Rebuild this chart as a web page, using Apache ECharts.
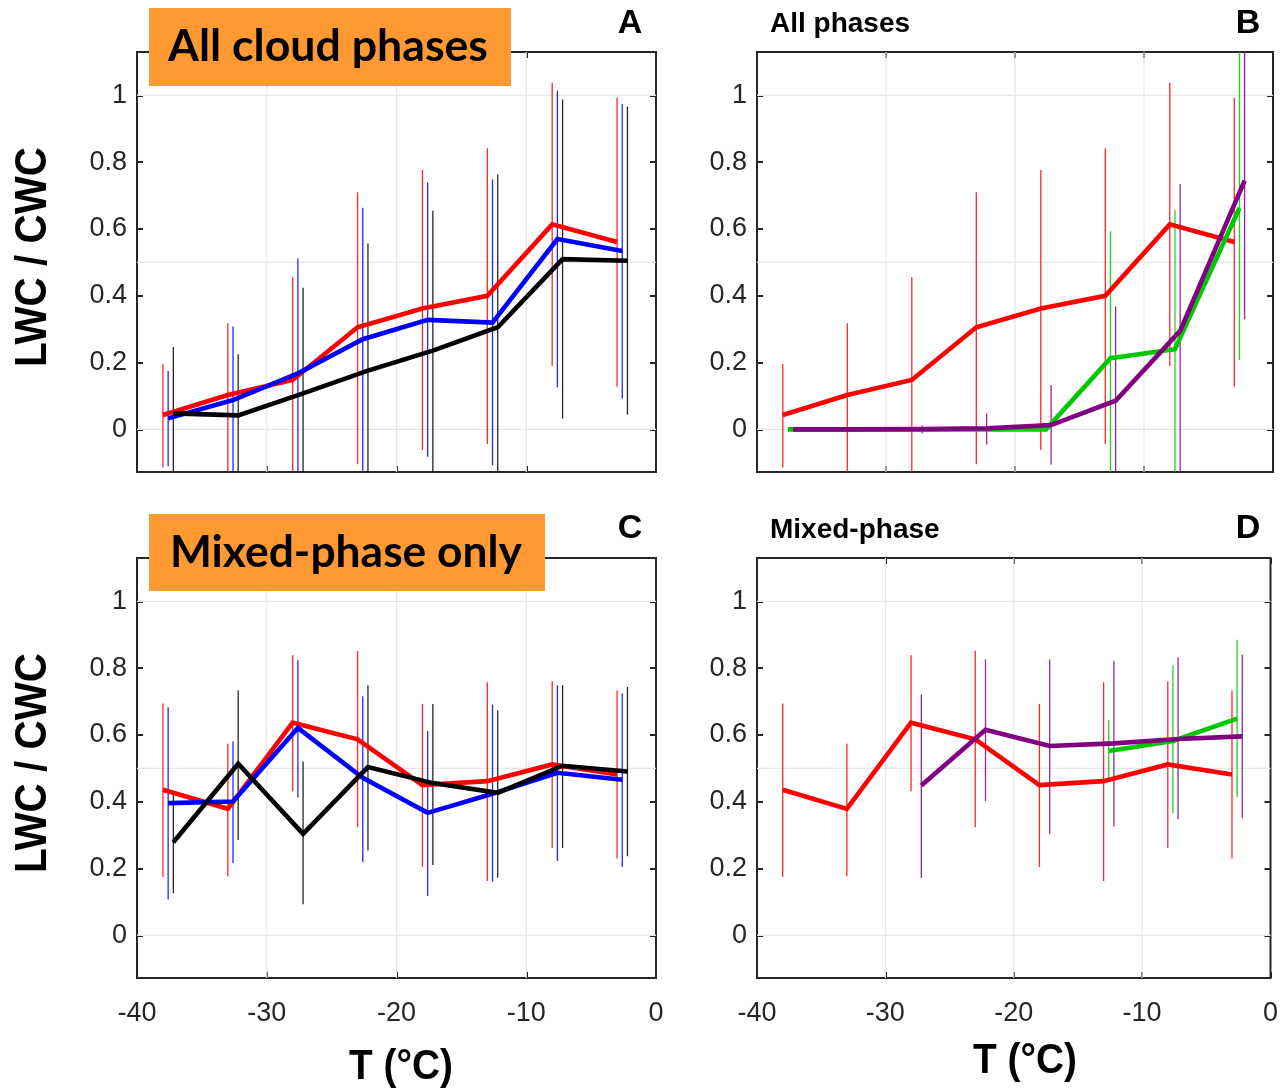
<!DOCTYPE html>
<html>
<head>
<meta charset="utf-8">
<script src="https://cdn.jsdelivr.net/npm/echarts@6/dist/echarts.min.js"></script>
<style>
  html, body { margin: 0; padding: 0; background: #ffffff; }
  #chart { width: 1281px; height: 1090px; }
</style>
</head>
<body>
<div id="chart"></div>
<script>
// Temperature bins (°C); each group of curves is offset slightly so the error bars don't overlap
const xRed   = [-38, -33, -28, -23, -18, -13, -8, -3];
const xMid   = [-37.6, -32.6, -27.6, -22.6, -17.6, -12.6, -7.6, -2.6];
const xRight = [-37.2, -32.2, -27.2, -22.2, -17.2, -12.2, -7.2, -2.2];

// Axis ticks and grid
const xTicks = [-40, -30, -20, -10, 0];
const yTicks = [0, 0.2, 0.4, 0.6, 0.8, 1];
const gridX  = [-30, -20, -10];
const gridY  = [0, 0.5, 1];

// All cloud phases: LWC/CWC mean and spread
const allRed     = [0.043, 0.103, 0.148, 0.306, 0.362, 0.400, 0.614, 0.561];
const allRedHi   = [0.196, 0.318, 0.456, 0.710, 0.777, 0.842, 1.038, 0.993];
const allRedLo   = [-0.114, -0.15, -0.16, -0.104, -0.062, -0.044, 0.190, 0.128];

const allBlue    = [0.033, 0.088, 0.168, 0.270, 0.328, 0.320, 0.570, 0.534];
const allBlueHi  = [0.175, 0.308, 0.512, 0.664, 0.739, 0.748, 1.014, 0.974];
const allBlueLo  = [-0.110, -0.15, -0.18, -0.124, -0.082, -0.107, 0.126, 0.092];

const allBlack   = [0.048, 0.042, 0.108, 0.176, 0.236, 0.306, 0.510, 0.505];
const allBlackHi = [0.247, 0.225, 0.424, 0.557, 0.655, 0.763, 0.988, 0.966];
const allBlackLo = [-0.15, -0.14, -0.21, -0.20, -0.18, -0.15, 0.033, 0.044];

const allGreen   = [0, 0, 0, 0, 0, 0.213, 0.240, 0.663];
const allGreenHi = [0, 0, 0, 0, 0, 0.593, 0.658, 1.25];
const allGreenLo = [0, 0, 0, 0, 0, -0.20, -0.20, 0.208];

const allPurple   = [0, 0, 0.001, 0.003, 0.013, 0.086, 0.295, 0.745];
const allPurpleHi = [0, 0, 0.012, 0.048, 0.133, 0.368, 0.735, 1.25];
const allPurpleLo = [0, 0, -0.012, -0.045, -0.105, -0.20, -0.20, 0.330];

// Mixed-phase clouds only
const mixRed     = [0.436, 0.379, 0.637, 0.587, 0.450, 0.462, 0.512, 0.482];
const mixRedHi   = [0.694, 0.574, 0.839, 0.852, 0.693, 0.758, 0.761, 0.733];
const mixRedLo   = [0.175, 0.177, 0.432, 0.324, 0.205, 0.163, 0.262, 0.230];

const mixBlue    = [0.396, 0.401, 0.621, 0.472, 0.367, 0.424, 0.487, 0.466];
const mixBlueHi  = [0.683, 0.581, 0.824, 0.716, 0.612, 0.691, 0.749, 0.725];
const mixBlueLo  = [0.108, 0.217, 0.413, 0.220, 0.118, 0.161, 0.223, 0.205];

const mixBlack   = [0.279, 0.514, 0.304, 0.504, 0.456, 0.427, 0.508, 0.491];
const mixBlackHi = [0.429, 0.734, 0.521, 0.749, 0.693, 0.674, 0.749, 0.744];
const mixBlackLo = [0.126, 0.286, 0.093, 0.254, 0.211, 0.173, 0.262, 0.237];

const mixGreen   = [null, null, null, null, null, 0.552, 0.582, 0.649];
const mixGreenHi = [null, null, null, null, null, 0.644, 0.808, 0.885];
const mixGreenLo = [null, null, null, null, null, 0.459, 0.366, 0.414];

const mixPurple   = [null, null, 0.449, 0.616, 0.567, 0.575, 0.588, 0.596];
const mixPurpleHi = [null, null, 0.721, 0.826, 0.826, 0.822, 0.833, 0.840];
const mixPurpleLo = [null, null, 0.173, 0.402, 0.304, 0.326, 0.348, 0.351];

const RED = '#ff0000', BLUE = '#0000ff', BLACK = '#000000', GREEN = '#00c800', PURPLE = '#800080';
const INK = '#262626';
const TICK_FONT = '"Liberation Sans", Arial, sans-serif';

const panels = [
  { grid: { left: 137, top: 52, width: 519, height: 420 }, xLabels: false, curves: [
      { color: RED,   x: xRed,   y: allRed,   lo: allRedLo,   hi: allRedHi },
      { color: BLUE,  x: xMid,   y: allBlue,  lo: allBlueLo,  hi: allBlueHi },
      { color: BLACK, x: xRight, y: allBlack, lo: allBlackLo, hi: allBlackHi } ] },
  { grid: { left: 757, top: 52, width: 516, height: 420 }, xLabels: false, curves: [
      { color: RED,    x: xRed,   y: allRed,    lo: allRedLo,    hi: allRedHi },
      { color: GREEN,  x: xMid,   y: allGreen,  lo: allGreenLo,  hi: allGreenHi },
      { color: PURPLE, x: xRight, y: allPurple, lo: allPurpleLo, hi: allPurpleHi } ] },
  { grid: { left: 137, top: 558, width: 519, height: 420 }, xLabels: true, curves: [
      { color: RED,   x: xRed,   y: mixRed,   lo: mixRedLo,   hi: mixRedHi },
      { color: BLUE,  x: xMid,   y: mixBlue,  lo: mixBlueLo,  hi: mixBlueHi },
      { color: BLACK, x: xRight, y: mixBlack, lo: mixBlackLo, hi: mixBlackHi } ] },
  { grid: { left: 757, top: 558, width: 516, height: 420 }, xLabels: true, curves: [
      { color: RED,    x: xRed,   y: mixRed,    lo: mixRedLo,    hi: mixRedHi },
      { color: GREEN,  x: xMid,   y: mixGreen,  lo: mixGreenLo,  hi: mixGreenHi },
      { color: PURPLE, x: xRight, y: mixPurple, lo: mixPurpleLo, hi: mixPurpleHi } ] }
];

const grids = [], xAxes = [], yAxes = [], series = [];

panels.forEach((p, i) => {
  grids.push(Object.assign({ show: true, borderColor: INK, borderWidth: 2, backgroundColor: '#ffffff' }, p.grid));
  const tick = { show: true, inside: true, length: 6, lineStyle: { color: INK, width: 2 } };
  const xBase = { type: 'value', gridIndex: i, min: -40, max: 0, interval: 10,
    axisLine: { show: false, onZero: false }, splitLine: { show: false }, axisTick: tick };
  xAxes.push(Object.assign({}, xBase, { position: 'bottom',
    axisLabel: { show: p.xLabels, fontFamily: TICK_FONT, fontSize: 27, color: INK, margin: 22,
                 showMinLabel: true, showMaxLabel: true, formatter: v => String(v) } }));
  xAxes.push(Object.assign({}, xBase, { position: 'top', axisLabel: { show: false } }));
  const yBase = { type: 'value', gridIndex: i, min: -0.1275, max: 1.13,
    axisLine: { show: false, onZero: false }, splitLine: { show: false },
    axisTick: Object.assign({ customValues: yTicks }, tick) };
  yAxes.push(Object.assign({}, yBase, { position: 'left',
    axisLabel: { show: true, customValues: yTicks, fontFamily: TICK_FONT, fontSize: 27, color: INK,
                 margin: 10, formatter: v => String(v) } }));
  yAxes.push(Object.assign({}, yBase, { position: 'right', axisLabel: { show: false } }));

  const xi = i * 2, yi = i * 2;

  // light grid lines
  const gridData = gridX.map(v => [v, 0.5, 0]).concat(gridY.map(v => [-20, v, 1]));
  series.push({
    type: 'custom', xAxisIndex: xi, yAxisIndex: yi, silent: true, z: 1, clip: true,
    data: gridData,
    renderItem: (params, api) => {
      const cs = params.coordSys;
      const pt = api.coord([api.value(0), api.value(1)]);
      const vertical = api.value(2) === 0;
      const shape = vertical
        ? { x1: pt[0], y1: cs.y, x2: pt[0], y2: cs.y + cs.height }
        : { x1: cs.x, y1: pt[1], x2: cs.x + cs.width, y2: pt[1] };
      return { type: 'line', shape: shape, style: { stroke: '#e6e6e6', lineWidth: 1.2 } };
    }
  });

  // error bars
  p.curves.forEach(c => {
    const data = [];
    c.x.forEach((x, k) => {
      if (c.lo[k] != null && c.hi[k] != null && c.hi[k] > c.lo[k]) data.push([x, c.lo[k], c.hi[k]]);
    });
    series.push({
      type: 'custom', xAxisIndex: xi, yAxisIndex: yi, silent: true, z: 2, clip: true,
      encode: { x: 0, y: [1, 2] },
      data: data,
      renderItem: (params, api) => {
        const a = api.coord([api.value(0), api.value(1)]);
        const b = api.coord([api.value(0), api.value(2)]);
        return { type: 'line', shape: { x1: a[0], y1: a[1], x2: b[0], y2: b[1] },
                 style: { stroke: c.color, lineWidth: 1.3, opacity: 0.85 } };
      }
    });
  });

  // mean curves
  p.curves.forEach(c => {
    const data = [];
    c.x.forEach((x, k) => { if (c.y[k] != null) data.push([x, c.y[k]]); });
    series.push({
      type: 'line', xAxisIndex: xi, yAxisIndex: yi, z: 3, silent: true,
      showSymbol: false, symbol: 'none', clip: true,
      data: data,
      lineStyle: { color: c.color, width: 4.6, join: 'miter' }
    });
  });
});

// text width helper for fitting labels to a fixed span
const measureCtx = document.createElement('canvas').getContext('2d');
function fitScale(text, font, width) {
  measureCtx.font = font;
  return width / measureCtx.measureText(text).width;
}

const boxFont = 'bold 43px Lato, "Open Sans", sans-serif';
const yTitleFont = 'bold 44px "Liberation Sans", Arial, sans-serif';
const xTitleFont = 'bold 42px "Liberation Sans", Arial, sans-serif';
const letterFont = 'bold 34px "Liberation Sans", Arial, sans-serif';
const subFont = 'bold 28px "Liberation Sans", Arial, sans-serif';

function label(text, x, y, font, opts) {
  return Object.assign({ type: 'text', x: x, y: y, z: 100,
    style: { text: text, font: font, fill: '#000000', align: 'center', verticalAlign: 'middle' } }, opts || {});
}

const graphics = [
  { type: 'rect', z: 90, shape: { x: 149, y: 8, width: 362, height: 78 }, style: { fill: '#ff9933' } },
  { type: 'rect', z: 90, shape: { x: 149, y: 514, width: 396, height: 77 }, style: { fill: '#ff9933' } },
  label('All cloud phases', 328, 47.5, boxFont, { scaleX: fitScale('All cloud phases', boxFont, 320) }),
  label('Mixed-phase only', 346, 553, boxFont, { scaleX: fitScale('Mixed-phase only', boxFont, 352) }),
  label('A', 630, 24, letterFont),
  label('B', 1248, 24, letterFont),
  label('C', 630, 529, letterFont),
  label('D', 1248, 529, letterFont),
  { type: 'text', x: 770, y: 24, z: 100, style: { text: 'All phases', font: subFont, fill: '#000000', align: 'left', verticalAlign: 'middle' } },
  { type: 'text', x: 770, y: 530, z: 100, style: { text: 'Mixed-phase', font: subFont, fill: '#000000', align: 'left', verticalAlign: 'middle' } },
  label('LWC / CWC', 34, 257, yTitleFont, { rotation: Math.PI / 2, scaleX: fitScale('LWC / CWC', yTitleFont, 220) }),
  label('LWC / CWC', 34, 763, yTitleFont, { rotation: Math.PI / 2, scaleX: fitScale('LWC / CWC', yTitleFont, 220) }),
  label('T (°C)', 401, 1067, xTitleFont, { scaleX: fitScale('T (°C)', xTitleFont, 104) }),
  label('T (°C)', 1025, 1061, xTitleFont, { scaleX: fitScale('T (°C)', xTitleFont, 104) })
];

const chart = echarts.init(document.getElementById('chart'), null, { renderer: 'canvas', width: 1281, height: 1090 });
chart.setOption({
  animation: false,
  backgroundColor: '#ffffff',
  grid: grids,
  xAxis: xAxes,
  yAxis: yAxes,
  series: series,
  graphic: graphics
});
</script>
</body>
</html>
